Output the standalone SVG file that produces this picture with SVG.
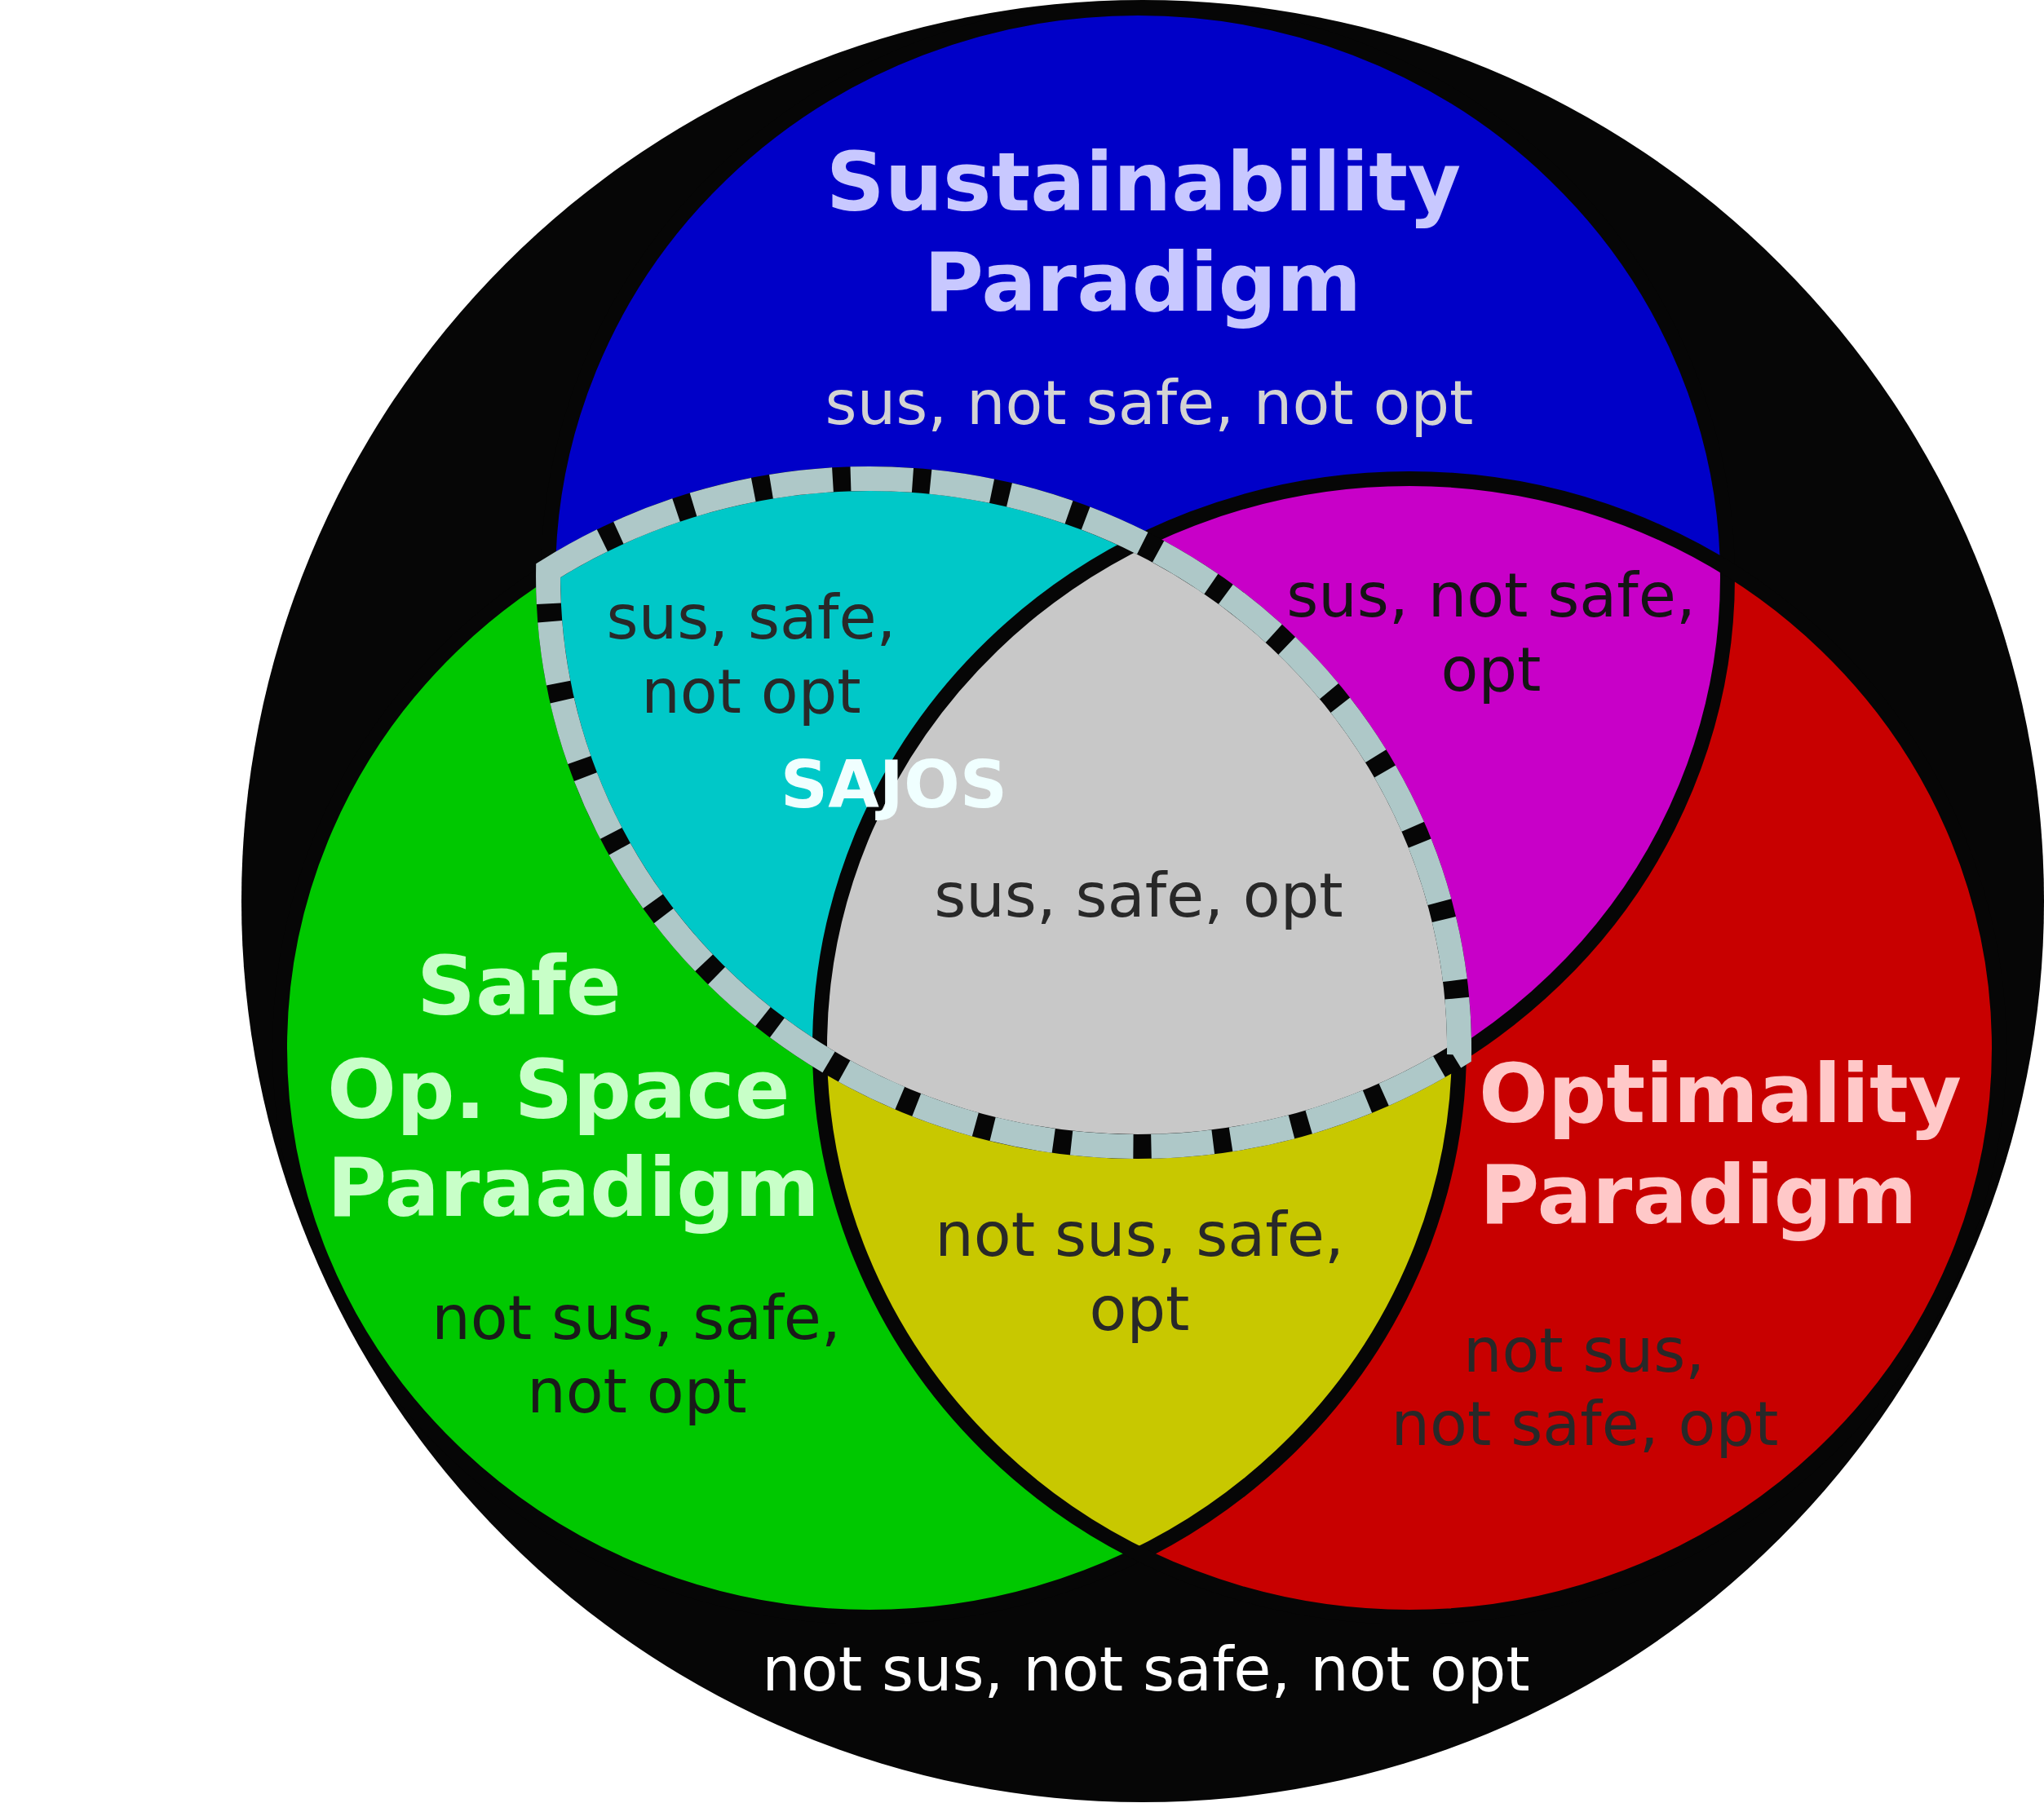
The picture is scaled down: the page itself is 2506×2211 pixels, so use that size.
<svg xmlns="http://www.w3.org/2000/svg" xmlns:xlink="http://www.w3.org/1999/xlink" width="2506" height="2211" viewBox="0 0 2506 2211">
<style>
  .ol { fill: none; stroke: #060606; stroke-width: 18; }
  .r { font-family: "DejaVu Sans", sans-serif; font-size: 75px; fill: #282828; text-anchor: middle; }
  .b { font-family: "DejaVu Sans", sans-serif; font-size: 100px; font-weight: bold; }
</style>
<defs>
  <ellipse id="eB" cx="1395" cy="708" rx="723" ry="698"/>
  <ellipse id="eG" cx="1066" cy="1285" rx="723" ry="698"/>
  <ellipse id="eR" cx="1728" cy="1285" rx="723" ry="698"/>
  <clipPath id="cB"><use xlink:href="#eB"/></clipPath>
  <clipPath id="cG"><use xlink:href="#eG"/></clipPath>
  <clipPath id="cU"><circle cx="1401" cy="1105" r="1104"/></clipPath>
</defs>
<rect width="2506" height="2211" fill="#ffffff"/>
<g id="universe">
  <circle cx="1401" cy="1105" r="1105" fill="#060606"/>
</g>
<g id="sustainability">
  <use xlink:href="#eB" fill="#0000c8"/>
</g>
<g id="safe">
  <use xlink:href="#eG" fill="#00c800"/>
</g>
<g id="optimality">
  <use xlink:href="#eR" fill="#c80000"/>
</g>
<g id="sus-safe" clip-path="url(#cB)">
  <use xlink:href="#eG" fill="#00c8c8"/>
</g>
<g id="sus-opt" clip-path="url(#cB)">
  <use xlink:href="#eR" fill="#c800c8"/>
</g>
<g id="safe-opt" clip-path="url(#cG)">
  <use xlink:href="#eR" fill="#c8c800"/>
</g>
<g id="sus-safe-opt" clip-path="url(#cB)">
  <g clip-path="url(#cG)">
    <use xlink:href="#eR" fill="#c8c8c8"/>
  </g>
</g>
<g id="outlines" clip-path="url(#cU)">
  <use xlink:href="#eB" class="ol"/>
  <use xlink:href="#eG" class="ol"/>
  <use xlink:href="#eR" class="ol"/>
</g>
<g id="sajos">
  <path d="M672.1,699.7 A723,698 0 0 1 1789,1293.3 A723,698 0 0 1 672.1,699.7 Z" fill="none" stroke="#060606" stroke-width="30"/>
  <path d="M672.1,699.7 A723,698 0 0 1 1789,1293.3 A723,698 0 0 1 672.1,699.7 Z" fill="none" stroke="#aec8c8" stroke-width="30" stroke-dasharray="76 22"/>
</g>
<g id="labels">
  <text class="b" x="1402" y="258" fill="#c8c8ff" text-anchor="middle">Sustainability</text>
  <text class="b" x="1401" y="381" fill="#c8c8ff" text-anchor="middle">Paradigm</text>
  <text class="r" x="1409" y="520" style="fill:#d3d3d3">sus, not safe, not opt</text>
  <text class="r" x="921" y="783">sus, safe,</text>
  <text class="r" x="921" y="874">not opt</text>
  <text class="b" x="1096" y="990" fill="#f0ffff" text-anchor="middle" style="font-size:81px">SAJOS</text>
  <text class="r" x="1828" y="756" style="fill:#141414">sus, not safe,</text>
  <text class="r" x="1828" y="847" style="fill:#141414">opt</text>
  <text class="r" x="1396" y="1124">sus, safe, opt</text>
  <text class="b" x="511" y="1244" fill="#c8ffc8">Safe</text>
  <text class="b" x="401" y="1371" fill="#c8ffc8">Op. Space</text>
  <text class="b" x="401" y="1491" fill="#c8ffc8">Paraadigm</text>
  <text class="r" x="780" y="1642" style="fill:#1a1a1a">not sus, safe,</text>
  <text class="r" x="781" y="1732" style="fill:#1a1a1a">not opt</text>
  <text class="r" x="1397" y="1540">not sus, safe,</text>
  <text class="r" x="1397" y="1631">opt</text>
  <text class="b" x="1813" y="1376" fill="#ffc8c8">Optimality</text>
  <text class="b" x="1814" y="1500" fill="#ffc8c8">Paradigm</text>
  <text class="r" x="1942" y="1682">not sus,</text>
  <text class="r" x="1943" y="1772">not safe, opt</text>
  <text class="r" x="1405" y="2073" style="fill:#ffffff">not sus, not safe, not opt</text>
</g>
</svg>
